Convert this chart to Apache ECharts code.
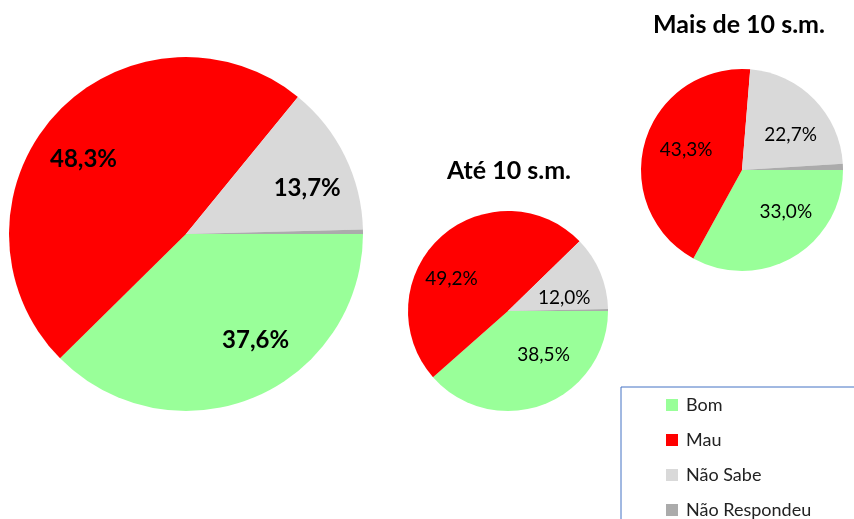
<!DOCTYPE html>
<html>
<head>
<meta charset="utf-8">
<script src="https://cdn.jsdelivr.net/npm/echarts@6/dist/echarts.min.js"></script>
<style>
html,body{margin:0;padding:0;background:#fff;}
#chart{width:854px;height:519px;}
</style>
</head>
<body>
<div id="chart"></div>
<script>
// Data
var categories = ['Bom', 'Mau', 'Não Sabe', 'Não Respondeu'];
var totalValues = [37.6, 48.3, 13.7, 0.4];
var ate10Values = [38.5, 49.2, 12.0, 0.3];
var mais10Values = [33.0, 43.3, 22.7, 1.0];
var pieTitles = ['', 'Até 10 s.m.', 'Mais de 10 s.m.'];
var colors = ['#99FF99', '#FF0000', '#D9D9D9', '#ABABAB'];

var FONT = 'Lato';

function toData(vals) {
  return categories.map(function (c, i) {
    return { name: c, value: vals[i], itemStyle: { color: colors[i] } };
  });
}
function fmt(p) {
  if (p.name === 'Não Respondeu') return '';
  return p.value.toFixed(1).replace('.', ',') + '%';
}

// per-pie layout/style (label nudges mimic the source's label placement)
var pies = [
  { vals: totalValues, center: [186, 234], r: 177, r0: 78, fontSize: 24, bold: true,
    nudges: [[20, -14], [-6, 13], [4, 12], [0, 0]] },
  { vals: ate10Values, center: [508, 311], r: 100, r0: 16, fontSize: 19, bold: false,
    nudges: [[14, -13], [-15, 13], [0, 10], [0, 0]] },
  { vals: mais10Values, center: [742, 170], r: 101, r0: 18, fontSize: 19, bold: false,
    nudges: [[12, -12], [4, -2], [4, 9], [0, 0]] }
];

var series = [];
pies.forEach(function (p) {
  series.push({
    type: 'pie',
    center: p.center,
    radius: [0, p.r],
    startAngle: 0,
    clockwise: true,
    data: toData(p.vals),
    label: { show: false },
    labelLine: { show: false },
    itemStyle: { borderWidth: 0 },
    emphasis: { disabled: true },
    silent: true,
    animation: false
  });
});
pies.forEach(function (p) {
  series.push({
    type: 'pie',
    center: p.center,
    radius: [p.r0, p.r],
    startAngle: 0,
    clockwise: true,
    data: categories.map(function (c, i) {
      return { name: c, value: p.vals[i], itemStyle: { color: 'rgba(0,0,0,0)' },
               label: { offset: p.nudges[i] } };
    }),
    label: {
      show: true,
      position: 'inside',
      formatter: fmt,
      color: '#000',
      fontFamily: FONT,
      fontSize: p.fontSize,
      fontWeight: p.bold ? 'bold' : 'normal'
    },
    labelLine: { show: false },
    itemStyle: { borderWidth: 0 },
    emphasis: { disabled: true },
    silent: true,
    animation: false,
    legendHoverLink: false
  });
});

var option = {
  backgroundColor: '#fff',
  animation: false,
  title: [
    { text: pieTitles[1], left: 504, top: 153, textAlign: 'center',
      textStyle: { fontFamily: FONT, fontSize: 25, fontWeight: 'bold', color: '#000' } },
    { text: pieTitles[2], left: 734, top: 7, textAlign: 'center',
      textStyle: { fontFamily: FONT, fontSize: 25, fontWeight: 'bold', color: '#000' } }
  ],
  legend: {
    orient: 'vertical',
    left: 621,
    top: 387,
    height: 160,
    data: categories,
    icon: 'rect',
    itemWidth: 12,
    itemHeight: 12,
    itemGap: 13,
    padding: [7, 80, 40, 45],
    borderColor: '#4472C4',
    borderWidth: 1,
    selectedMode: false,
    textStyle: { fontFamily: FONT, fontSize: 18, color: '#222', lineHeight: 22, padding: [0, 0, 0, 3] }
  },
  series: series
};

var chart = echarts.init(document.getElementById('chart'), null, { renderer: 'canvas' });
chart.setOption(option);
</script>
</body>
</html>
